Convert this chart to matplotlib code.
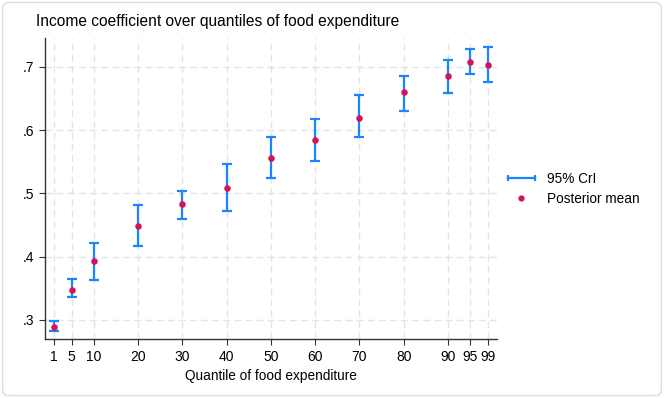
import matplotlib.pyplot as plt
from matplotlib.lines import Line2D
from matplotlib.patches import FancyBboxPatch
from matplotlib.legend_handler import HandlerLine2D

plt.rcParams['font.family'] = ['Liberation Sans', 'DejaVu Sans']

# Posterior summaries of the income coefficient by quantile
quantiles = [1, 5, 10, 20, 30, 40, 50, 60, 70, 80, 90, 95, 99]
post_mean = [0.289, 0.348, 0.394, 0.448, 0.483, 0.508, 0.556, 0.585, 0.620, 0.660, 0.686, 0.707, 0.703]
cri_low = [0.283, 0.336, 0.363, 0.417, 0.459, 0.473, 0.524, 0.552, 0.590, 0.631, 0.658, 0.689, 0.676]
cri_high = [0.298, 0.365, 0.422, 0.481, 0.504, 0.547, 0.589, 0.617, 0.655, 0.686, 0.711, 0.728, 0.731]
y_ticks = [0.3, 0.4, 0.5, 0.6, 0.7]
y_labels = ['.3', '.4', '.5', '.6', '.7']

blue = '#1a85ff'
red = '#d41159'

fig = plt.figure(figsize=(6.64, 3.98), dpi=100)
fig.patches.append(FancyBboxPatch((0.004, 0.006), 0.992, 0.988, boxstyle='round,pad=0,rounding_size=0.012',
                                  transform=fig.transFigure, facecolor='white', edgecolor='#dddddd',
                                  lw=1, zorder=-5))
ax = fig.add_axes([0.068, 0.1475, 0.68, 0.7575])
ax.patch.set_alpha(0)

err_lo = [m - lo for m, lo in zip(post_mean, cri_low)]
err_hi = [hi - m for m, hi in zip(post_mean, cri_high)]
ax.errorbar(quantiles, post_mean, yerr=[err_lo, err_hi], fmt='none', ecolor=blue,
            elinewidth=1.6, capsize=3.5, capthick=1.6, zorder=3)
ax.scatter(quantiles, post_mean, s=22, color=red, zorder=4, linewidths=0)

ax.set_xlim(-1, 101)
ax.set_ylim(0.2695, 0.746)
ax.set_xticks(quantiles)
ax.set_yticks(y_ticks)
ax.set_yticklabels(y_labels)
ax.tick_params(axis='both', labelsize=10, length=4.5, width=0.8, color='#333333')
ax.grid(True, color='#e4e4e4', linestyle=(0, (5, 3)), linewidth=1)
ax.set_axisbelow(True)
for s in ['top', 'right']:
    ax.spines[s].set_visible(False)
for s in ['left', 'bottom']:
    ax.spines[s].set_color('#333333')
    ax.spines[s].set_linewidth(1)

ax.set_xlabel('Quantile of food expenditure', fontsize=9.8, labelpad=3)
fig.text(0.054, 0.947, 'Income coefficient over quantiles of food expenditure', fontsize=11.2,
         ha='left', va='center')

cri_handle = Line2D([], [], color=blue, lw=1.6, marker='|', markersize=5, markeredgewidth=1.6)
mean_handle = Line2D([], [], color=red, lw=0, marker='o', markersize=4.5, markeredgewidth=0)
fig.legend([cri_handle, mean_handle], ['95% CrI', 'Posterior mean'], loc='center left',
           bbox_to_anchor=(0.74, 0.525), frameon=False, fontsize=9.8, handlelength=2.6,
           handletextpad=0.6, labelspacing=0.45,
           handler_map={cri_handle: HandlerLine2D(numpoints=2), mean_handle: HandlerLine2D(numpoints=1)})

fig.savefig('out.png', dpi=100)
